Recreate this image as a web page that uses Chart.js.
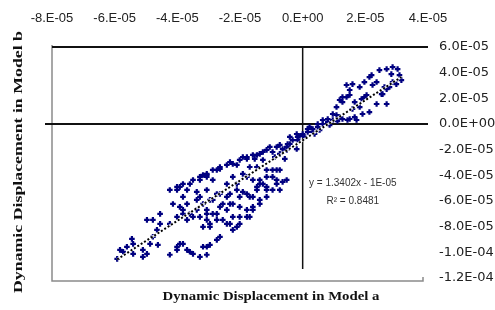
<!DOCTYPE html>
<html>
<head>
<meta charset="utf-8">
<script src="https://cdn.jsdelivr.net/npm/chart.js@4/dist/chart.umd.min.js"></script>
<style>
  html, body { margin: 0; padding: 0; background: #fff; }
  canvas { display: block; }
</style>
</head>
<body>
<canvas id="chart" width="495" height="310"></canvas>
<script>
// values are in units of 1e-5
const UNIT = 1e-5;

const xTitle = 'Dynamic Displacement in Model a';
const yTitle = 'Dynamic Displacement in Model b';
const equation = ['y = 1.3402x - 1E-05', 'R\u00b2 = 0.8481'];

const xRange = [-8, 4];
const yRange = [-12, 6];
const tickStep = 2;

// Model a displacement (x)
const modelA = [
  2.45, 2.13, 1.82, 1.50, 1.27, 1.08, 0.96, 2.77, 2.36, 2.13,
  1.50, 1.72, 1.40, 1.59, 1.50, 1.27, 1.97, 2.20, 2.23, 2.68,
  2.83, 3.03, 3.09, 2.87, 2.68, 2.52, 2.68, 1.91, 1.66, 1.43,
  1.88, 2.04, 2.87, 3.15, 2.99, 2.61, 2.55, 1.82, 1.18, 1.40,
  1.66, 1.08, 2.36, 1.97, 1.59,
  -0.64, -0.48, -0.32, -0.16, 0.00, 0.16, 0.32, 0.48, 0.64, 0.80,
  0.96, -0.73, -0.41, -0.19, 0.16, 0.32, 0.48, 0.64, 0.80, 1.18,
  1.27, -0.16, -0.51, -0.10, 0.22, 0.06, 0.38, 0.54, 0.86, 1.11,
  -0.83, -1.15, -1.37, -1.59, -1.78, -2.01, -2.23, -2.42, -2.64, -2.87,
  -3.06, -3.28, -3.60, -3.82, -4.01, -0.73, -0.96, -0.19, -0.51, -1.46,
  -1.78, -2.64, -3.06, -3.92, -3.69, -3.28, -3.06, -2.87, -4.24, -0.57,
  -2.32, -1.91, -1.27, -1.05, -1.53, -2.10, -2.74, -3.18, -3.50, -0.89,
  -0.41,
  -1.69, -1.91, -2.23, -2.10, -2.42, -2.64, -2.32, -1.91, -1.69, -1.46,
  -1.37, -1.15, -0.83, -0.64, -0.51, -0.73, -0.96, -1.15, -1.37, -1.59,
  -1.69, -2.01, -2.32, -2.64, -2.87, -3.06, -3.18, -2.96, -2.55, -2.32,
  -2.10, -2.23, -2.01, -1.15, -0.83, -1.15, -1.46, -1.27, -2.74, -2.96,
  -3.18, -3.38, -3.06, -3.28, -2.96, -2.74, -3.92, -3.69, -3.82, -4.01,
  -3.69, -3.60, -3.38, -3.28, -3.06, -2.96, -2.74, -4.97, -4.78, -4.55,
  -4.65, -4.78, -4.62, -4.97, -5.10, -5.45, -5.41, -5.73, -5.92, -3.82,
  -4.01, -4.24, -3.60, -3.28, -3.06, -1.78, -1.59, -1.37, -1.15, -0.83,
  -0.73, -0.96, -1.37, -1.78, -2.01, -2.42, -2.64, -3.06, -3.50, -3.69,
  -4.01, -3.92, -3.50, -3.82, -4.24, -4.55, -4.87, -5.10, -5.61, -5.83,
  -5.41, -4.01, -2.87, -2.42, -2.55, -2.23, -2.01, -2.10, -1.78, -1.59,
  -1.46, -1.27, -0.96, -1.59, -1.78, -2.23, -2.42, -2.74, -3.06, -3.18,
  -3.38, -3.82, -4.14
];

// Model b displacement (y)
const modelB = [
  4.20, 3.66, 2.88, 2.65, 2.10, 1.32, 0.78, 2.88, 1.56, 0.93,
  0.39, 0.31, 3.04, 3.11, 2.26, 1.71, 3.27, 3.81, 3.04, 4.28,
  3.89, 4.28, 3.81, 3.27, 2.72, 2.33, 1.56, 0.78, 0.54, 0.31,
  1.95, 2.26, 4.44, 3.42, 3.11, 2.88, 2.33, 1.32, 1.87, 2.10,
  1.71, 0.70, 3.27, 2.10, 1.17,
  -1.95, -1.56, -1.25, -1.01, -0.78, -0.62, -0.39, -0.23, 0.00, 0.16,
  0.31, -1.63, -1.01, -0.78, -0.39, -0.62, 0.00, 0.31, 0.39, 0.54,
  0.39, -1.25, -1.79, -0.93, -0.23, -1.01, -0.78, -0.47, -0.08, 0.23,
  -1.79, -2.02, -2.33, -2.41, -2.57, -2.80, -3.11, -3.19, -3.35, -3.58,
  -3.89, -4.12, -4.67, -4.67, -4.90, -2.33, -2.18, -1.95, -2.02, -2.41,
  -2.72, -3.50, -3.97, -4.90, -5.14, -4.36, -4.12, -4.36, -5.14, -2.72,
  -2.96, -2.57, -2.18, -1.79, -2.72, -3.19, -3.58, -3.97, -4.36, -2.57,
  -1.56,
  -3.35, -3.89, -4.12, -4.67, -4.67, -5.45, -5.45, -5.29, -5.68, -4.90,
  -4.36, -4.12, -4.36, -4.51, -4.36, -5.14, -5.14, -5.68, -5.91, -6.46,
  -7.24, -6.46, -6.23, -6.46, -7.00, -7.47, -8.02, -8.02, -7.47, -7.78,
  -8.02, -8.25, -7.78, -4.90, -3.58, -3.58, -3.35, -2.80, -9.03, -9.42,
  -9.57, -5.29, -5.14, -5.68, -5.91, -5.45, -6.46, -6.23, -7.00, -7.24,
  -7.47, -7.00, -6.69, -7.24, -7.00, -7.78, -7.47, -7.47, -7.47, -7.00,
  -8.25, -8.79, -9.42, -10.12, -10.35, -8.95, -9.34, -9.96, -10.51, -9.34,
  -9.57, -10.19, -9.96, -10.35, -10.19, -4.12, -4.36, -4.67, -5.14, -4.67,
  -3.58, -3.58, -6.23, -6.69, -7.24, -7.78, -8.79, -9.57, -10.12, -9.81,
  -9.81, -9.34, -7.24, -6.69, -7.78, -7.78, -9.34, -9.81, -9.57, -9.81,
  -10.12, -5.14, -5.91, -5.68, -6.23, -6.23, -5.68, -5.14, -5.45, -5.68,
  -5.14, -4.67, -4.12, -6.69, -7.24, -7.24, -6.69, -7.00, -6.69, -6.23,
  -5.91, -5.68, -6.23
];

// linear trendline ends
const trendA = [-5.92, 3.15];
const trendB = [-10.55, 3.66];

function sci(v, digits) {
  v = Math.round(v * 1e9) / 1e9;
  const s = v.toExponential(digits);
  const [m, e] = s.split('e');
  const sign = e[0] === '-' ? '-' : '+';
  const num = e.replace(/[+-]/, '').padStart(2, '0');
  return (digits === 0 ? m + '.' : m) + 'E' + sign + num;
}

const points = modelA.map((a, i) => ({ x: a * UNIT, y: modelB[i] * UNIT }));
const trend = trendA.map((a, i) => ({ x: a * UNIT, y: trendB[i] * UNIT }));

const framePlugin = {
  id: 'frame',
  beforeDatasetsDraw(chart) {
    const { ctx, chartArea: { left, right, top, bottom }, scales: { x, y } } = chart;
    const x0 = x.getPixelForValue(0);
    const y0 = y.getPixelForValue(0);
    ctx.save();
    // left and bottom border (grey)
    ctx.strokeStyle = '#8a8a8a';
    ctx.lineWidth = 1.5;
    ctx.beginPath();
    ctx.moveTo(left, top - 2);
    ctx.lineTo(left, bottom + 3);
    ctx.lineTo(right - 5, bottom + 3);
    ctx.lineTo(right - 5, bottom - 1);
    ctx.stroke();
    // top line and zero lines (black)
    ctx.strokeStyle = '#111';
    ctx.lineWidth = 2;
    ctx.beginPath();
    ctx.moveTo(left, top);
    ctx.lineTo(right, top);
    ctx.moveTo(left - 7, y0);
    ctx.lineTo(right, y0);
    ctx.stroke();
    ctx.lineWidth = 1.5;
    ctx.beginPath();
    ctx.moveTo(x0, top);
    ctx.lineTo(x0, bottom - 9);
    ctx.stroke();
    ctx.restore();
  },
  afterDatasetsDraw(chart) {
    // dotted trendline over the markers: white underlay, black dots
    const { ctx, scales: { x, y } } = chart;
    const path = () => {
      ctx.beginPath();
      trend.forEach((p, i) => {
        const px = x.getPixelForValue(p.x), py = y.getPixelForValue(p.y);
        if (i === 0) ctx.moveTo(px, py); else ctx.lineTo(px, py);
      });
    };
    ctx.save();
    ctx.strokeStyle = 'rgba(255,255,255,0.85)';
    ctx.lineWidth = 2.5;
    path();
    ctx.stroke();
    ctx.strokeStyle = '#000';
    ctx.lineWidth = 2;
    ctx.setLineDash([2, 2]);
    path();
    ctx.stroke();
    ctx.restore();
  },
  afterDraw(chart) {
    const { ctx, chartArea: { left, right, top, bottom }, scales: { x } } = chart;
    ctx.save();
    ctx.fillStyle = '#111';
    ctx.textBaseline = 'middle';
    ctx.textAlign = 'center';

    // x title, stretched a little like the original
    ctx.font = 'bold 13px "Liberation Serif"';
    let w = ctx.measureText(xTitle).width;
    ctx.save();
    ctx.translate(left + 219, bottom + 19);
    ctx.scale(217 / w, 1);
    ctx.fillText(xTitle, 0, 0);
    ctx.restore();

    // y title, rotated
    w = ctx.measureText(yTitle).width;
    ctx.save();
    ctx.translate(left - 33, top + 115);
    ctx.rotate(-Math.PI / 2);
    ctx.scale(262 / w, 1);
    ctx.fillText(yTitle, 0, 0);
    ctx.restore();

    // trendline equation
    ctx.font = '10px "Liberation Sans"';
    ctx.fillStyle = '#333';
    const ex = x.getPixelForValue(1.6 * UNIT);
    ctx.fillText(equation[0], ex, top + 136);
    ctx.fillText(equation[1], ex, top + 154);
    ctx.restore();
  }
};

const chart = new Chart(document.getElementById('chart'), {
  type: 'scatter',
  data: {
    datasets: [
      {
        data: points,
        pointStyle: 'cross',
        radius: 2.8,
        borderWidth: 2.2,
        borderColor: '#000080',
        backgroundColor: '#000080'
      }
    ]
  },
  plugins: [framePlugin],
  options: {
    responsive: false,
    animation: false,
    layout: { padding: { left: 52, bottom: 32, top: 0, right: 0 } },
    plugins: { legend: { display: false }, tooltip: { enabled: false } },
    scales: {
      x: {
        type: 'linear',
        position: 'top',
        min: xRange[0] * UNIT,
        max: xRange[1] * UNIT,
        afterFit(scale) { scale.height = 47; },
        grid: { display: false },
        border: { display: false },
        ticks: {
          stepSize: tickStep * UNIT,
          autoSkip: false,
          maxRotation: 0,
          padding: 13,
          color: '#222',
          font: { family: '"Liberation Sans"', size: 13 },
          callback: (v) => sci(v, 0)
        }
      },
      y: {
        type: 'linear',
        position: 'right',
        min: yRange[0] * UNIT,
        max: yRange[1] * UNIT,
        afterFit(scale) { scale.width = 67; },
        grid: { display: false },
        border: { display: false },
        ticks: {
          stepSize: tickStep * UNIT,
          autoSkip: false,
          padding: 3,
          color: '#222',
          font: { family: '"DejaVu Sans"', size: 13 },
          callback: (v) => sci(v, 1)
        }
      }
    }
  }
});
</script>
</body>
</html>
